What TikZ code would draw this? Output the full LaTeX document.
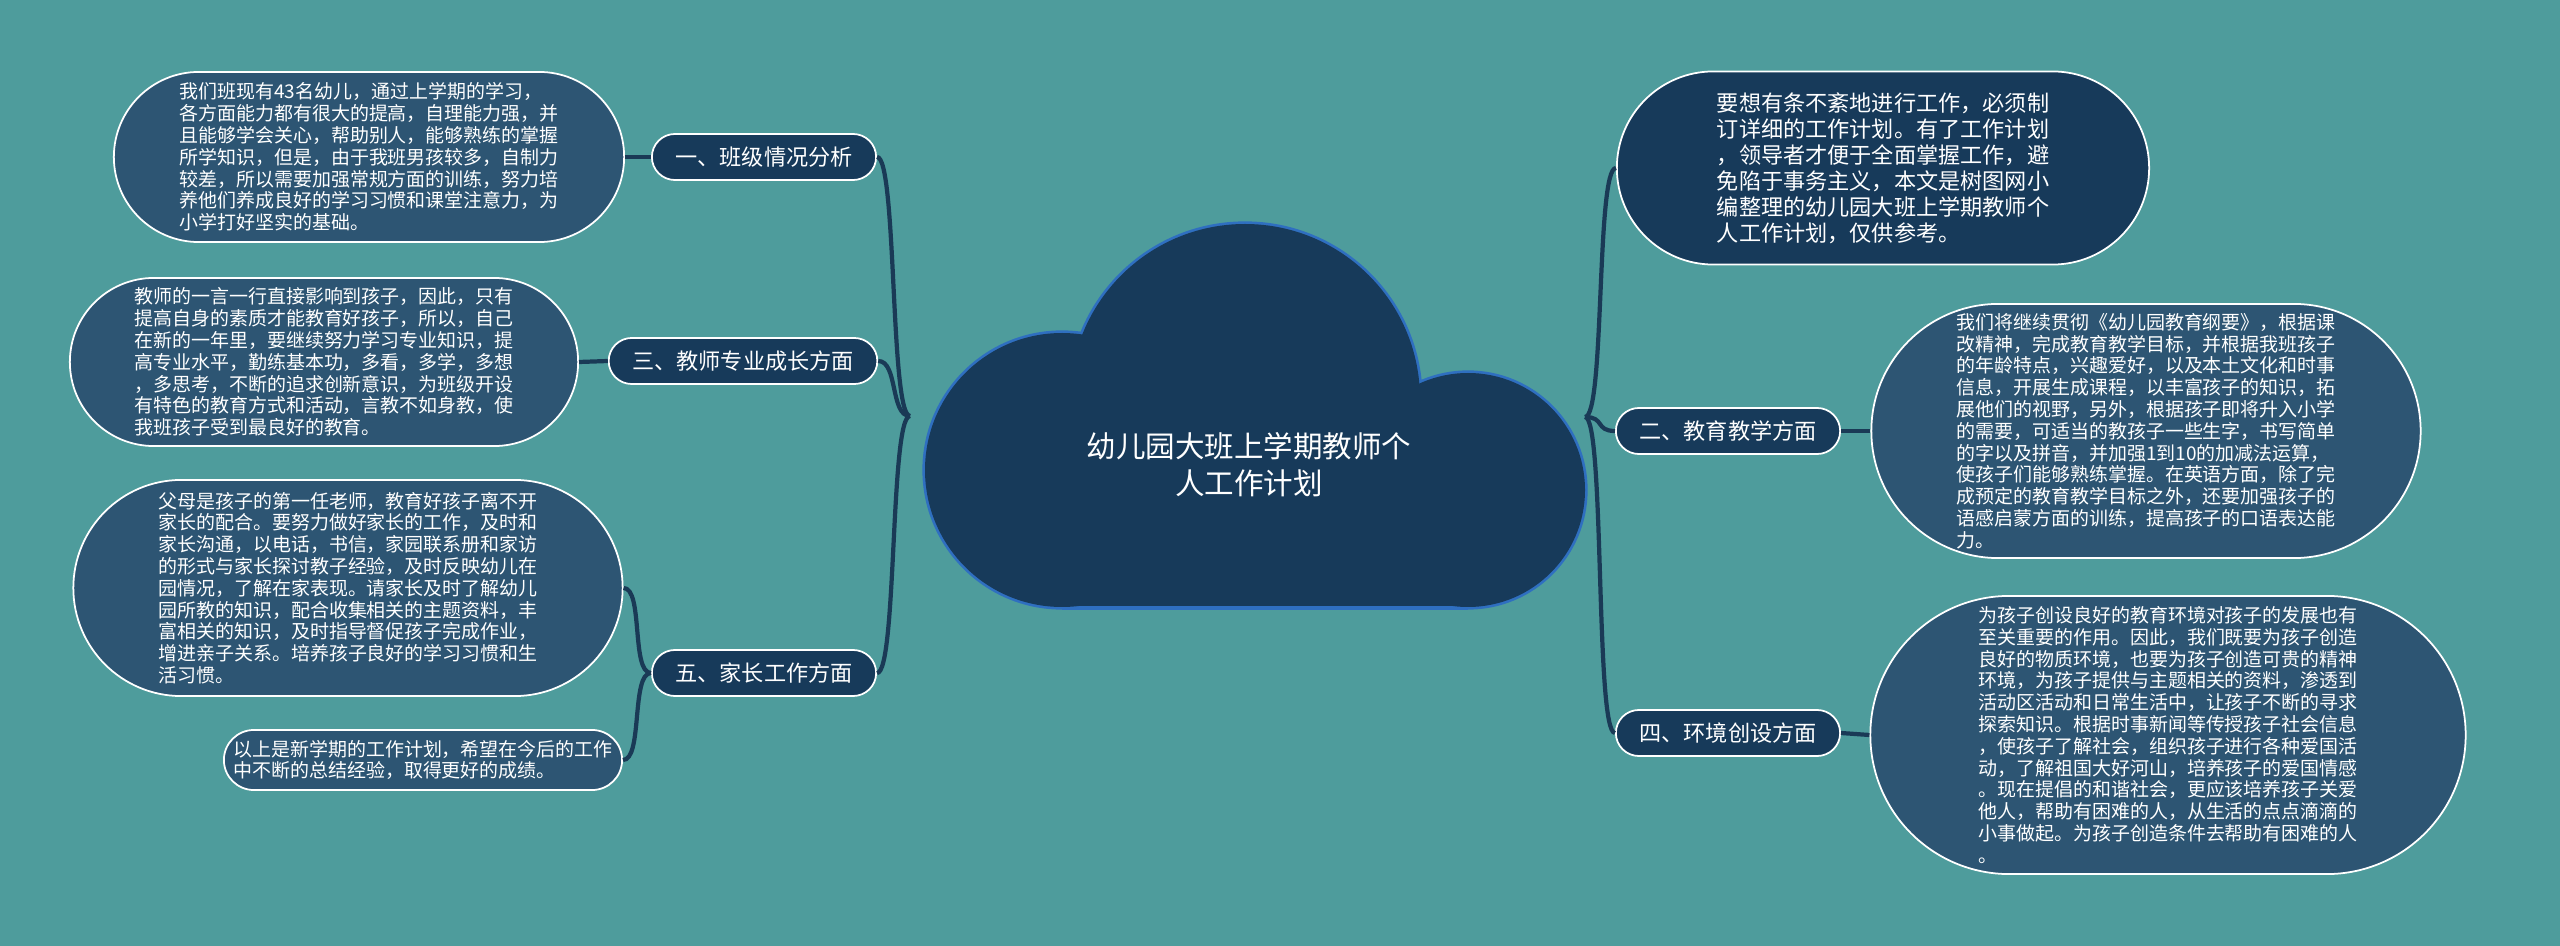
\documentclass[tikz,border=0pt]{standalone}
\usepackage{fontspec}
\setmainfont{Noto Sans CJK SC}
\usetikzlibrary{shapes.misc}
\definecolor{bgteal}{HTML}{4E9C9C}
\definecolor{rootblue}{HTML}{173A5A}
\definecolor{leafblue}{HTML}{2D5573}
\definecolor{edgeblue}{HTML}{1A3A56}
\definecolor{cloudline}{HTML}{2F6FC0}
\tikzset{
  branch/.style={rounded rectangle, draw=white, fill=rootblue, line width=0.5pt,
    text=white, font=\fontsize{6.3}{7}\selectfont, minimum height=0.46cm, inner xsep=6pt},
  leaf/.style={rounded rectangle, draw=white, fill=leafblue, line width=0.5pt,
    text=white, font=\fontsize{5.4}{6.2}\selectfont, align=left, inner sep=0pt},
  link/.style={draw=edgeblue, line width=1.2pt}
}
\begin{document}
\begin{tikzpicture}[x=0.01cm, y=-0.01cm]
  % Background
  \fill[bgteal] (0,0) rectangle (2560,946);
  \useasboundingbox (0,0) rectangle (2560,946);

  % Cloud
  \begin{scope}[draw=cloudline, line width=1.5pt]
    \filldraw[fill=rootblue] (1245,399) circle (175);
    \filldraw[fill=rootblue] (1062,470) circle (137);
    \filldraw[fill=rootblue] (1468,490) circle (117);
    \filldraw[fill=rootblue] (1455,455) circle (66);
    \draw (1062,607) -- (1468,607);
  \end{scope}
  \fill[rootblue] (1245,399) circle (175);
  \fill[rootblue] (1062,470) circle (137);
  \fill[rootblue] (1468,490) circle (117);
  \fill[rootblue] (1455,455) circle (66);
  \fill[rootblue] (1062,420) rectangle (1468,606);
  \node[text=white, align=center, font=\fontsize{8.4}{10.6}\selectfont] (root) at (1249,465)
    {幼儿园大班上学期教师个\\人工作计划};
  \coordinate (jl) at (910,416);
  \coordinate (jr) at (1585,417);

  % Branches
  \node[branch] (b1) at (764,157) {一、班级情况分析};
  \node[branch] (b3) at (743,361) {三、教师专业成长方面};
  \node[branch] (b5) at (764,673) {五、家长工作方面};
  \node[branch] (b2) at (1728,431) {二、教育教学方面};
  \node[branch] (b4) at (1728,733) {四、环境创设方面};

  % Leaves
  \node[leaf, minimum width=5.10cm, minimum height=1.70cm] (l1) at (369,157) {%
    我们班现有43名幼儿，通过上学期的学习，\\
    各方面能力都有很大的提高，自理能力强，并\\
    且能够学会关心，帮助别人，能够熟练的掌握\\
    所学知识，但是，由于我班男孩较多，自制力\\
    较差，所以需要加强常规方面的训练，努力培\\
    养他们养成良好的学习习惯和课堂注意力，为\\
    小学打好坚实的基础。};
  \node[leaf, minimum width=5.08cm, minimum height=1.68cm] (l3) at (324,362) {%
    教师的一言一行直接影响到孩子，因此，只有\\
    提高自身的素质才能教育好孩子，所以，自己\\
    在新的一年里，要继续努力学习专业知识，提\\
    高专业水平，勤练基本功，多看，多学，多想\\
    ，多思考，不断的追求创新意识，为班级开设\\
    有特色的教育方式和活动，言教不如身教，使\\
    我班孩子受到最良好的教育。};
  \node[leaf, minimum width=5.49cm, minimum height=2.16cm] (l5) at (348,588) {%
    父母是孩子的第一任老师，教育好孩子离不开\\
    家长的配合。要努力做好家长的工作，及时和\\
    家长沟通，以电话，书信，家园联系册和家访\\
    的形式与家长探讨教子经验，及时反映幼儿在\\
    园情况，了解在家表现。请家长及时了解幼儿\\
    园所教的知识，配合收集相关的主题资料，丰\\
    富相关的知识，及时指导督促孩子完成作业，\\
    增进亲子关系。培养孩子良好的学习习惯和生\\
    活习惯。};
  \node[leaf, minimum width=3.98cm, minimum height=0.60cm] (l6) at (423,760) {%
    以上是新学期的工作计划，希望在今后的工作\\
    中不断的总结经验，取得更好的成绩。};
  \node[leaf, fill=rootblue, font=\fontsize{6.3}{7.4}\selectfont,
    minimum width=5.32cm, minimum height=1.93cm] (r0) at (1883,168) {%
    要想有条不紊地进行工作，必须制\\
    订详细的工作计划。有了工作计划\\
    ，领导者才便于全面掌握工作，避\\
    免陷于事务主义，本文是树图网小\\
    编整理的幼儿园大班上学期教师个\\
    人工作计划，仅供参考。};
  \node[leaf, minimum width=5.49cm, minimum height=2.54cm] (r2) at (2146,431) {%
    我们将继续贯彻《幼儿园教育纲要》，根据课\\
    改精神，完成教育教学目标，并根据我班孩子\\
    的年龄特点，兴趣爱好，以及本土文化和时事\\
    信息，开展生成课程，以丰富孩子的知识，拓\\
    展他们的视野，另外，根据孩子即将升入小学\\
    的需要，可适当的教孩子一些生字，书写简单\\
    的字以及拼音，并加强1到10的加减法运算，\\
    使孩子们能够熟练掌握。在英语方面，除了完\\
    成预定的教育教学目标之外，还要加强孩子的\\
    语感启蒙方面的训练，提高孩子的口语表达能\\
    力。};
  \node[leaf, minimum width=5.95cm, minimum height=2.78cm] (r4) at (2168,735) {%
    为孩子创设良好的教育环境对孩子的发展也有\\
    至关重要的作用。因此，我们既要为孩子创造\\
    良好的物质环境，也要为孩子创造可贵的精神\\
    环境，为孩子提供与主题相关的资料，渗透到\\
    活动区活动和日常生活中，让孩子不断的寻求\\
    探索知识。根据时事新闻等传授孩子社会信息\\
    ，使孩子了解社会，组织孩子进行各种爱国活\\
    动，了解祖国大好河山，培养孩子的爱国情感\\
    。现在提倡的和谐社会，更应该培养孩子关爱\\
    他人，帮助有困难的人，从生活的点点滴滴的\\
    小事做起。为孩子创造条件去帮助有困难的人\\
    。};

  % Connectors
  \foreach \b in {b1,b3,b5}
    \draw[link] (jl) .. controls +(-20,0) and +(20,0) .. (\b.east);
  \foreach \b in {b2,b4,r0}
    \draw[link] (jr) .. controls +(20,0) and +(-20,0) .. (\b.west);
  \draw[link] (b1.west) -- (l1.east);
  \draw[link] (b3.west) -- (l3.east);
  \draw[link] (b5.west) .. controls +(-20,0) and +(20,0) .. (l5.east);
  \draw[link] (b5.west) .. controls +(-20,0) and +(20,0) .. (l6.east);
  \draw[link] (b2.east) -- (r2.west);
  \draw[link] (b4.east) -- (r4.west);
\end{tikzpicture}
\end{document}
